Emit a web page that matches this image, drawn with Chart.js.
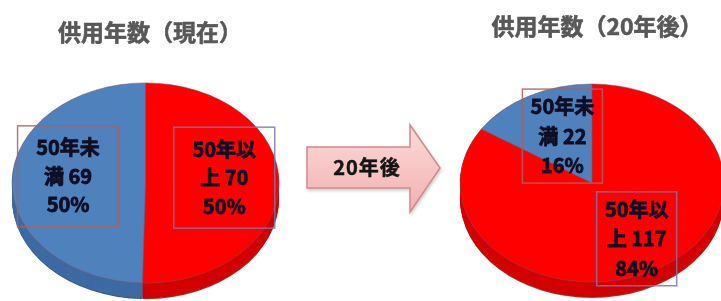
<!DOCTYPE html>
<html><head><meta charset="utf-8">
<script src="https://cdn.jsdelivr.net/npm/chart.js@4/dist/chart.umd.min.js"></script>
<style>
html,body{margin:0;padding:0;background:#fff;overflow:hidden;}
#wrap{position:relative;width:721px;height:301px;overflow:hidden;background:#fff;}
.title{position:absolute;font-family:"Noto Sans CJK JP";font-weight:bold;font-size:23px;color:#585858;-webkit-text-stroke:0.6px #585858;white-space:nowrap;transform:translate(-50%,-50%);line-height:1;}
canvas{position:absolute;top:0;}
svg{position:absolute;left:0;top:0;}
</style></head><body>
<div id="wrap">
<canvas id="c1" style="left:0px" width="291" height="366"></canvas>
<canvas id="c2" style="left:442px" width="300" height="366"></canvas>
<svg width="721" height="301">
  <defs>
    <linearGradient id="ag" x1="0" y1="0" x2="0" y2="1">
      <stop offset="0" stop-color="#fbdada"/>
      <stop offset="1" stop-color="#f2b0b0"/>
    </linearGradient>
    <filter id="sh" x="-20%" y="-20%" width="140%" height="140%">
      <feDropShadow dx="1" dy="2" stdDeviation="1.5" flood-color="#999" flood-opacity="0.5"/>
    </filter>
  </defs>
  <polygon points="307,147 410,147 410,125 440,168 410,212 410,188 307,188" fill="url(#ag)" stroke="#d08a8a" stroke-width="1.5" filter="url(#sh)"/>
  <text id="arrowText" x="367" y="175" text-anchor="middle" font-family="Noto Sans CJK JP" font-weight="bold" font-size="20" letter-spacing="1" fill="#151515" stroke="#151515" stroke-width="0.5"></text>
</svg>
<div class="title" id="t1" style="left:150px;top:31px"></div>
<div class="title" id="t2" style="left:597px;top:25px"></div>
</div>
<script>
// ---- data ----
const categories = ['50年以上', '50年未満'];
const currentValues = [70, 69];
const futureValues = [117, 22];
const chartTitles = ['供用年数（現在）', '供用年数（20年後）'];
const arrowLabel = '20年後';

document.getElementById('t1').textContent = chartTitles[0];
document.getElementById('t2').textContent = chartTitles[1];
document.getElementById('arrowText').textContent = arrowLabel;

// 3D tilt plugin: draws side walls, then squashes the pie into an ellipse
const pie3d = {
  id: 'pie3d',
  beforeDatasetsDraw(chart, args, opts) {
    const ctx = chart.ctx;
    const arcs = chart.getDatasetMeta(0).data;
    const cx = arcs[0].x, cy = arcs[0].y;
    const k = opts.tilt, d = opts.depth;
    for (let t = d; t >= 1; t--) {
      arcs.forEach((arc, i) => {
        ctx.save();
        ctx.translate(cx, cy + t);
        ctx.scale(1, k);
        ctx.beginPath();
        ctx.moveTo(0, 0);
        ctx.arc(0, 0, arc.outerRadius, arc.startAngle, arc.endAngle);
        ctx.closePath();
        ctx.fillStyle = (t === d) ? opts.edgeColors[i] : opts.sideColors[i];
        ctx.fill();
        ctx.restore();
      });
    }
    ctx.save();
    ctx.translate(cx, cy);
    ctx.scale(1, k);
    ctx.translate(-cx, -cy);
  },
  afterDatasetsDraw(chart) {
    chart.ctx.restore();
  }
};

// label boxes
const pieLabels = {
  id: 'pieLabels',
  afterDraw(chart, args, opts) {
    const ctx = chart.ctx;
    const ds = chart.data.datasets[0];
    const total = ds.data.reduce((a, b) => a + b, 0);
    const arcs = chart.getDatasetMeta(0).data;
    const k = chart.options.plugins.pie3d.tilt;
    arcs.forEach((arc, i) => {
      const mid = (arc.startAngle + arc.endAngle) / 2;
      const fr = opts.frac[i] * arc.outerRadius;
      const x = arc.x + Math.cos(mid) * fr;
      const y = arc.y + Math.sin(mid) * fr * k + opts.dy;
      const v = ds.data[i];
      const full = chart.data.labels[i] + ' ' + v;
      const lines = [full.slice(0, 4), full.slice(4), Math.round(v / total * 100) + '%'];
      ctx.save();
      ctx.strokeStyle = opts.boxColors[i];
      ctx.lineWidth = 1.5;
      ctx.strokeRect(x - opts.boxW / 2, y - opts.boxH / 2, opts.boxW, opts.boxH);
      ctx.fillStyle = '#0e0e24';
      ctx.strokeStyle = '#0e0e24';
      ctx.lineWidth = 0.8;
      ctx.font = 'bold 20px "Noto Sans CJK JP"';
      ctx.textAlign = 'center';
      ctx.textBaseline = 'middle';
      lines.forEach((ln, j) => {
        ctx.fillText(ln, x, y + (j - 1) * opts.lineH);
        ctx.strokeText(ln, x, y + (j - 1) * opts.lineH);
      });
      ctx.restore();
    });
  }
};

function makePie(id, values, o) {
  return new Chart(document.getElementById(id), {
    type: 'pie',
    data: {
      labels: categories,
      datasets: [{
        data: values,
        backgroundColor: ['#ff0000', '#4f81bd'],
        borderColor: 'rgba(120,80,100,0.6)',
        borderWidth: 1,
        radius: o.radius,
        clip: false
      }]
    },
    options: {
      responsive: false,
      animation: false,
      layout: { padding: 0 },
      events: [],
      plugins: {
        legend: { display: false },
        tooltip: { enabled: false },
        title: { display: false },
        pie3d: { tilt: 0.75, depth: 16, sideColors: ['#d20000', '#3d6aa2'], edgeColors: ['#a83030', '#33598a'] },
        pieLabels: { frac: o.frac, dy: -6, boxW: o.boxW, boxH: o.boxH, lineH: o.lineH,
          boxColors: ['rgba(120,120,175,0.85)', 'rgba(175,95,95,0.85)'] }
      }
    },
    plugins: [pie3d, pieLabels]
  });
}

makePie('c1', currentValues, { radius: 133.5, frac: [0.59, 0.58], boxW: 101, boxH: 101, lineH: 28.5 });
makePie('c2', futureValues, { radius: 132, frac: [0.71, 0.47], boxW: 80, boxH: 94, lineH: 29.5 });
</script>
</body></html>
